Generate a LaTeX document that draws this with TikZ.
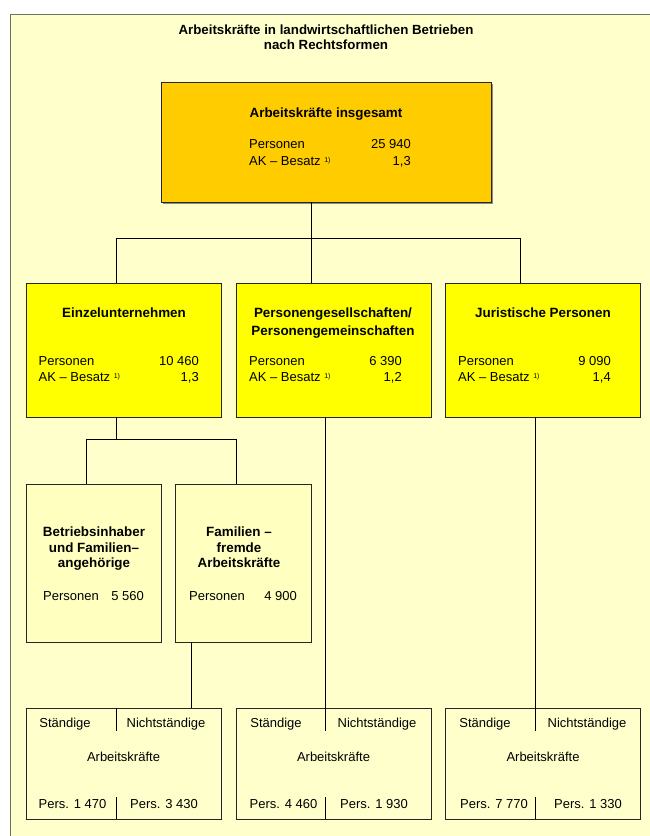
\documentclass[tikz,border=0pt]{standalone}
\usepackage{fontspec}
\setmainfont{Liberation Sans}
\definecolor{bgyel}{HTML}{FFFFCC}
\definecolor{topor}{HTML}{FFCC00}
\definecolor{midyel}{HTML}{FFFF00}
\definecolor{lowyel}{HTML}{FFFFC0}
\definecolor{framec}{HTML}{707060}
\newcommand{\fn}{\raisebox{3.5pt}{\fontsize{7}{7}\selectfont 1)}}
\tikzset{
  boxbase/.style={draw=black!85, line width=0.9pt, inner sep=0pt, outer sep=0pt},
  topbox/.style={boxbase, fill=topor},
  midbox/.style={boxbase, fill=midyel},
  lowbox/.style={boxbase, fill=lowyel},
  botbox/.style={boxbase, fill=bgyel},
  txt/.style={font=\fontsize{13}{15}\selectfont, inner sep=0pt, anchor=base},
  txtb/.style={txt, font=\fontsize{13.4}{15}\selectfont\bfseries},
  ttl/.style={txt, font=\fontsize{13.3}{15}\selectfont\bfseries},
  lw/.style={txt, anchor=base west},
  re/.style={txt, anchor=base east},
  conn/.style={draw=black, line width=0.8pt},
}
\begin{document}
\begin{tikzpicture}[x=1pt,y=-1pt]
\useasboundingbox (0,0) rectangle (650,836);
\fill[white] (0,0) rectangle (650,836);
\draw[framec, line width=1pt, fill=bgyel] (10,14) rectangle (662,848);

% title
\node[ttl] (t1) at (326,34.5) {Arbeitskräfte in landwirtschaftlichen Betrieben};
\node[ttl] (t2) at (326,49.5) {nach Rechtsformen};

% top box
\fill[black!45] (162.5,83.5) rectangle (492.5,203.5);
\node[topbox, minimum width=330pt, minimum height=120pt] (top) at (326,142) {};
\node[txtb] (topT) at (326,117.5) {Arbeitskräfte insgesamt};
\node[lw] (topP) at (249,148.5) {Personen};
\node[lw] (topA) at (249,165.5) {AK – Besatz \fn};
\node[re] (topPn) at (411,148.5) {25 940};
\node[re] (topAn) at (411,165.5) {1,3};

% level 1
\node[midbox, minimum width=195pt, minimum height=134pt] (e) at (123.5,350) {};
\node[midbox, minimum width=195pt, minimum height=134pt] (p) at (333.5,350) {};
\node[midbox, minimum width=195pt, minimum height=134pt] (j) at (542.5,350) {};

\node[txtb] (eT) at (124,317.5) {Einzelunternehmen};
\node[lw] (eP) at (38.5,365.5) {Personen};
\node[lw] (eA) at (38.5,381.5) {AK – Besatz \fn};
\node[re] (ePn) at (199,365.5) {10 460};
\node[re] (eAn) at (199,381.5) {1,3};

\node[txtb] (pT1) at (333,317.5) {Personengesellschaften/};
\node[txtb] (pT2) at (333,335.5) {Personengemeinschaften};
\node[lw] (pP) at (249,365.5) {Personen};
\node[lw] (pA) at (249,381.5) {AK – Besatz \fn};
\node[re] (pPn) at (402,365.5) {6 390};
\node[re] (pAn) at (402,381.5) {1,2};

\node[txtb] (jT) at (543,317.5) {Juristische Personen};
\node[lw] (jP) at (458,365.5) {Personen};
\node[lw] (jA) at (458,381.5) {AK – Besatz \fn};
\node[re] (jPn) at (611,365.5) {9 090};
\node[re] (jAn) at (611,381.5) {1,4};

% level 2
\node[lowbox, minimum width=135pt, minimum height=158pt] (bi) at (93.5,563) {};
\node[lowbox, minimum width=136pt, minimum height=158pt] (ff) at (243,563) {};
\node[txtb] (biT1) at (94,536.5) {Betriebsinhaber};
\node[txtb] (biT2) at (94,552.5) {und Familien–};
\node[txtb] (biT3) at (94,567.5) {angehörige};
\node[lw] (biP) at (43,600.5) {Personen};
\node[re] (biPn) at (144,600.5) {5 560};
\node[txtb] (ffT1) at (239,536.5) {Familien –};
\node[txtb] (ffT2) at (239,552.5) {fremde};
\node[txtb] (ffT3) at (239,567.5) {Arbeitskräfte};
\node[lw] (ffP) at (189,600.5) {Personen};
\node[re] (ffPn) at (297,600.5) {4 900};

% bottom boxes
\node[botbox, minimum width=195pt, minimum height=111pt] (sA) at (123.5,763.5) {};
\node[botbox, minimum width=195pt, minimum height=111pt] (sB) at (333.5,763.5) {};
\node[botbox, minimum width=195pt, minimum height=111pt] (sC) at (542.5,763.5) {};

\coordinate (dA) at (116,0);
\coordinate (dB) at (325,0);
\coordinate (dC) at (535,0);
\coordinate (cA) at (191,0);

\foreach \b/\d in {sA/dA, sB/dB, sC/dC}{
  \draw[conn] (\b.north -| \d) -- ++(0,23);
  \draw[conn] (\b.south -| \d) -- ++(0,-22);
}

\node[txt] (aS) at (65,727) {Ständige};
\node[txt] (aN) at (166,727) {Nichtständige};
\node[txt] (aK) at (123.5,761) {Arbeitskräfte};
\node[txt] (aP1) at (72.5,808.5) {Pers. 1 470};
\node[txt] (aP2) at (164,808.5) {Pers. 3 430};

\node[txt] (bS) at (276,727) {Ständige};
\node[txt] (bN) at (377,727) {Nichtständige};
\node[txt] (bK) at (333.5,761) {Arbeitskräfte};
\node[txt] (bP1) at (283.5,808.5) {Pers. 4 460};
\node[txt] (bP2) at (374,808.5) {Pers. 1 930};

\node[txt] (cS) at (485,727) {Ständige};
\node[txt] (cN) at (587,727) {Nichtständige};
\node[txt] (cK) at (543,761) {Arbeitskräfte};
\node[txt] (cP1) at (494,808.5) {Pers. 7 770};
\node[txt] (cP2) at (588,808.5) {Pers. 1 330};

% connectors
\coordinate (busL) at (116,238);
\coordinate (busM) at (311,238);
\coordinate (busR) at (520,238);
\draw[conn] (top.south -| busM) -- (busM);
\draw[conn] (e.north -| busL) -- (busL) -- (busR) -- (j.north -| busR);
\draw[conn] (busM) -- (p.north -| busM);

\coordinate (bus2L) at (86,439);
\coordinate (bus2M) at (116,439);
\coordinate (bus2R) at (236,439);
\draw[conn] (e.south -| bus2M) -- (bus2M);
\draw[conn] (bi.north -| bus2L) -- (bus2L) -- (bus2R) -- (ff.north -| bus2R);

\draw[conn] (ff.south -| cA) -- (sA.north -| cA);
\draw[conn] (p.south -| dB) -- (sB.north -| dB);
\draw[conn] (j.south -| dC) -- (sC.north -| dC);
\end{tikzpicture}
\end{document}
